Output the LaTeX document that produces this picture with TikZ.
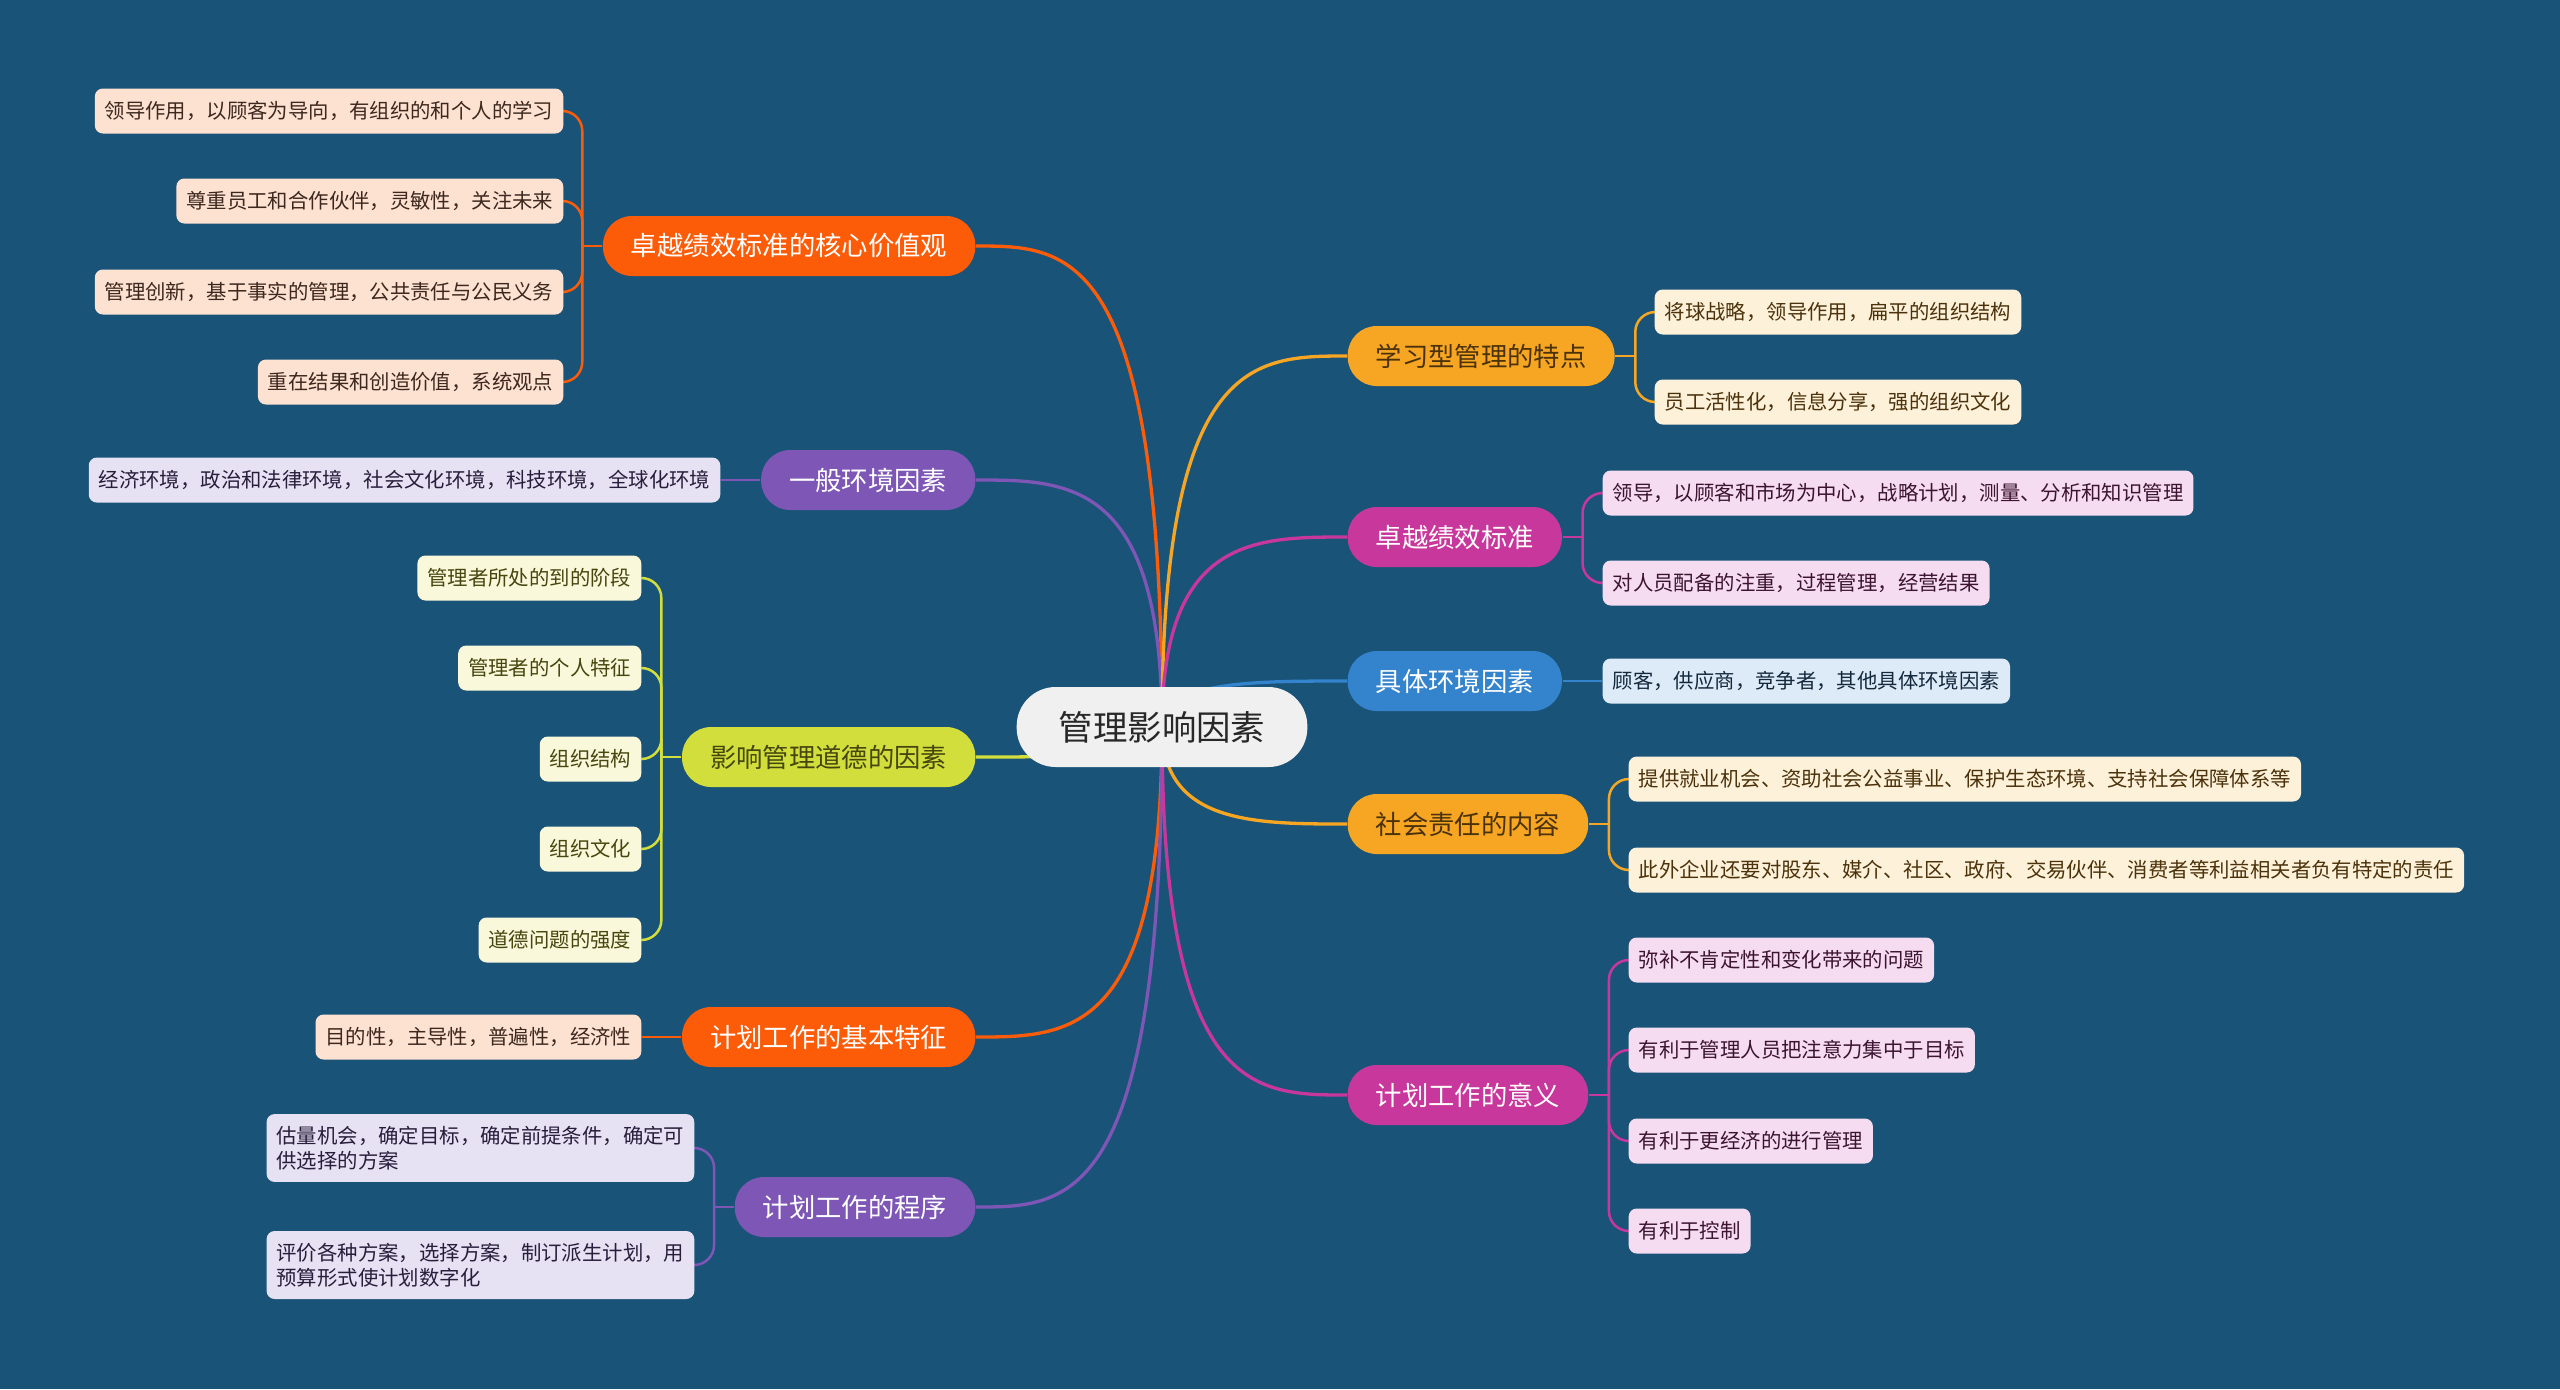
\documentclass[tikz,border=0pt]{standalone}
\usepackage{fontspec}
\newfontfamily\cjk{Noto Sans CJK SC}
\usetikzlibrary{positioning,calc}
\definecolor{bgblue}{RGB}{26,83,120}
\definecolor{hubgray}{RGB}{240,240,240}
\definecolor{hubtext}{RGB}{40,40,40}
\definecolor{cOrange}{RGB}{252,92,8}
\definecolor{lOrange}{RGB}{253,226,210}
\definecolor{tOrange}{RGB}{60,40,30}
\definecolor{cPurple}{RGB}{126,87,182}
\definecolor{lPurple}{RGB}{230,225,243}
\definecolor{tPurple}{RGB}{40,30,60}
\definecolor{cLime}{RGB}{210,222,60}
\definecolor{lLime}{RGB}{250,248,218}
\definecolor{tLime}{RGB}{70,70,15}
\definecolor{cAmber}{RGB}{246,166,35}
\definecolor{lAmber}{RGB}{253,241,218}
\definecolor{tAmber}{RGB}{75,50,10}
\definecolor{cMagenta}{RGB}{200,55,155}
\definecolor{lMagenta}{RGB}{245,220,240}
\definecolor{tMagenta}{RGB}{60,20,50}
\definecolor{cBlue}{RGB}{52,131,205}
\definecolor{lBlue}{RGB}{221,235,248}
\definecolor{tBlue}{RGB}{20,40,60}
\pgfdeclarelayer{bg}
\pgfdeclarelayer{links}
\pgfsetlayers{bg,links,main}
\tikzset{
  hub/.style={rectangle, rounded corners=3.9mm, fill=hubgray, text=hubtext,
              minimum height=8mm, inner xsep=4.2mm, inner ysep=0pt,
              font=\cjk\fontsize{9.8pt}{11pt}\selectfont},
  topic/.style 2 args={rectangle, rounded corners=2.9mm, fill=#1, text=#2,
              minimum height=6mm, inner xsep=2.8mm, inner ysep=0pt,
              font=\cjk\fontsize{7.5pt}{9pt}\selectfont},
  leaf/.style 2 args={rectangle, rounded corners=0.8mm, fill=#1, text=#2,
              minimum height=4.5mm, inner xsep=1mm, inner ysep=1.2mm, align=left,
              font=\cjk\fontsize{5.8pt}{7.1pt}\selectfont},
  branch/.style={line width=0.33mm, draw=#1,
              to path={.. controls (\tikztostart |- \tikztotarget)
                and ($(\tikztostart |- \tikztotarget)!0.5!(\tikztotarget)$) .. (\tikztotarget)}},
  twig/.style={line width=0.25mm, draw=#1, rounded corners=2mm}
}
\begin{document}
\begin{tikzpicture}[x=0.1mm, y=-0.1mm]
\useasboundingbox (0,0) rectangle (2560,1389);
\begin{pgfonlayer}{bg}
  \fill[bgblue] (0,0) rectangle (2560,1389);
\end{pgfonlayer}

\node[hub] (c) at (1162,727) {管理影响因素};

% left topics
\node[topic={cOrange}{white}, anchor=east]  (m1) at (976,246)  {卓越绩效标准的核心价值观};
\node[topic={cPurple}{white}, anchor=east]  (m2) at (976,480)  {一般环境因素};
\node[topic={cLime}{tLime}, anchor=east]    (m3) at (976,757)  {影响管理道德的因素};
\node[topic={cOrange}{white}, anchor=east]  (m4) at (976,1037) {计划工作的基本特征};
\node[topic={cPurple}{white}, anchor=east]  (m5) at (976,1207) {计划工作的程序};

% right topics
\node[topic={cAmber}{tAmber}, anchor=west]    (n1) at (1347,356)  {学习型管理的特点};
\node[topic={cMagenta}{white}, anchor=west]   (n2) at (1347,537)  {卓越绩效标准};
\node[topic={cBlue}{white}, anchor=west]      (n3) at (1347,681)  {具体环境因素};
\node[topic={cAmber}{tAmber}, anchor=west]    (n4) at (1347,824)  {社会责任的内容};
\node[topic={cMagenta}{white}, anchor=west]   (n5) at (1347,1095) {计划工作的意义};

% left leaves
\node[leaf={lOrange}{tOrange}, anchor=east] (m1a) at (564,111) {领导作用，以顾客为导向，有组织的和个人的学习};
\node[leaf={lOrange}{tOrange}, anchor=east] (m1b) at (564,201) {尊重员工和合作伙伴，灵敏性，关注未来};
\node[leaf={lOrange}{tOrange}, anchor=east] (m1c) at (564,292) {管理创新，基于事实的管理，公共责任与公民义务};
\node[leaf={lOrange}{tOrange}, anchor=east] (m1d) at (564,382) {重在结果和创造价值，系统观点};
\node[leaf={lPurple}{tPurple}, anchor=east] (m2a) at (721,480) {经济环境，政治和法律环境，社会文化环境，科技环境，全球化环境};
\node[leaf={lLime}{tLime}, anchor=east]     (m3a) at (642,578) {管理者所处的到的阶段};
\node[leaf={lLime}{tLime}, anchor=east]     (m3b) at (642,668) {管理者的个人特征};
\node[leaf={lLime}{tLime}, anchor=east]     (m3c) at (642,759) {组织结构};
\node[leaf={lLime}{tLime}, anchor=east]     (m3d) at (642,849) {组织文化};
\node[leaf={lLime}{tLime}, anchor=east]     (m3e) at (642,940) {道德问题的强度};
\node[leaf={lOrange}{tOrange}, anchor=east] (m4a) at (642,1037) {目的性，主导性，普遍性，经济性};
\node[leaf={lPurple}{tPurple}, anchor=east] (m5a) at (695,1148) {估量机会，确定目标，确定前提条件，确定可\\供选择的方案};
\node[leaf={lPurple}{tPurple}, anchor=east] (m5b) at (695,1265) {评价各种方案，选择方案，制订派生计划，用\\预算形式使计划数字化};

% right leaves
\node[leaf={lAmber}{tAmber}, anchor=west]     (n1a) at (1654,312) {将球战略，领导作用，扁平的组织结构};
\node[leaf={lAmber}{tAmber}, anchor=west]     (n1b) at (1654,402) {员工活性化，信息分享，强的组织文化};
\node[leaf={lMagenta}{tMagenta}, anchor=west] (n2a) at (1602,493) {领导，以顾客和市场为中心，战略计划，测量、分析和知识管理};
\node[leaf={lMagenta}{tMagenta}, anchor=west] (n2b) at (1602,583) {对人员配备的注重，过程管理，经营结果};
\node[leaf={lBlue}{tBlue}, anchor=west]       (n3a) at (1602,681) {顾客，供应商，竞争者，其他具体环境因素};
\node[leaf={lAmber}{tAmber}, anchor=west]     (n4a) at (1628,779) {提供就业机会、资助社会公益事业、保护生态环境、支持社会保障体系等};
\node[leaf={lAmber}{tAmber}, anchor=west]     (n4b) at (1628,870) {此外企业还要对股东、媒介、社区、政府、交易伙伴、消费者等利益相关者负有特定的责任};
\node[leaf={lMagenta}{tMagenta}, anchor=west] (n5a) at (1628,960)  {弥补不肯定性和变化带来的问题};
\node[leaf={lMagenta}{tMagenta}, anchor=west] (n5b) at (1628,1050) {有利于管理人员把注意力集中于目标};
\node[leaf={lMagenta}{tMagenta}, anchor=west] (n5c) at (1628,1141) {有利于更经济的进行管理};
\node[leaf={lMagenta}{tMagenta}, anchor=west] (n5d) at (1628,1231) {有利于控制};

\begin{pgfonlayer}{links}
% hub to topics
\draw[branch=cOrange]  (c.center) to (m1.east);
\draw[branch=cPurple]  (c.center) to (m2.east);
\draw[branch=cLime]    (c.center) to (m3.east);
\draw[branch=cOrange]  (c.center) to (m4.east);
\draw[branch=cPurple]  (c.center) to (m5.east);
\draw[branch=cAmber]   (c.center) to (n1.west);
\draw[branch=cMagenta] (c.center) to (n2.west);
\draw[branch=cBlue]    (c.center) to (n3.west);
\draw[branch=cAmber]   (c.center) to (n4.west);
\draw[branch=cMagenta] (c.center) to (n5.west);

% topics to leaves
\coordinate[left=2mm of m1] (j1);
\draw[twig=cOrange] (m1.west) -- (j1);
\foreach \k in {a,b,c,d} \draw[twig=cOrange] (j1) |- (m1\k.east);
\draw[twig=cPurple] (m2.west) -- (m2a.east);
\coordinate[left=2mm of m3] (j3);
\draw[twig=cLime] (m3.west) -- (j3);
\foreach \k in {a,b,c,d,e} \draw[twig=cLime] (j3) |- (m3\k.east);
\draw[twig=cOrange] (m4.west) -- (m4a.east);
\coordinate[left=2mm of m5] (j5);
\draw[twig=cPurple] (m5.west) -- (j5);
\foreach \k in {a,b} \draw[twig=cPurple] (j5) |- (m5\k.east);

\coordinate[right=2mm of n1] (k1);
\draw[twig=cAmber] (n1.east) -- (k1);
\foreach \k in {a,b} \draw[twig=cAmber] (k1) |- (n1\k.west);
\coordinate[right=2mm of n2] (k2);
\draw[twig=cMagenta] (n2.east) -- (k2);
\foreach \k in {a,b} \draw[twig=cMagenta] (k2) |- (n2\k.west);
\draw[twig=cBlue] (n3.east) -- (n3a.west);
\coordinate[right=2mm of n4] (k4);
\draw[twig=cAmber] (n4.east) -- (k4);
\foreach \k in {a,b} \draw[twig=cAmber] (k4) |- (n4\k.west);
\coordinate[right=2mm of n5] (k5);
\draw[twig=cMagenta] (n5.east) -- (k5);
\foreach \k in {a,b,c,d} \draw[twig=cMagenta] (k5) |- (n5\k.west);
\end{pgfonlayer}
\end{tikzpicture}
\end{document}
